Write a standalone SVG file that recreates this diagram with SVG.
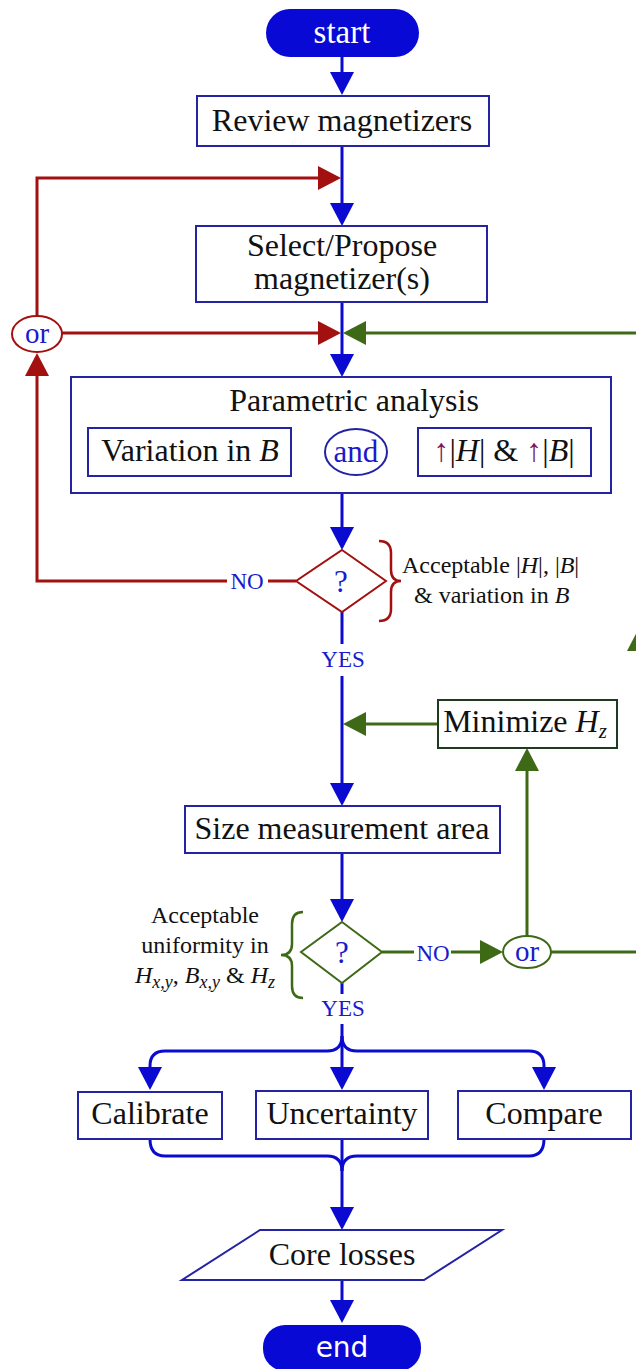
<svg xmlns="http://www.w3.org/2000/svg" width="636" height="1369" viewBox="0 0 636 1369">
  <defs>
    <style>
      .box { fill: #ffffff; stroke: #2323a3; stroke-width: 2; }
      .term { fill: #0909d6; }
      .txt { font-family: "Liberation Serif", "Times New Roman", serif; font-size: 32px; fill: #111111; text-anchor: middle; }
      .note { font-family: "Liberation Serif", "Times New Roman", serif; font-size: 24px; fill: #111111; }
      .lbl { font-family: "Liberation Serif", "Times New Roman", serif; font-size: 23px; fill: #1a1acc; text-anchor: middle; }
      .lbl.big { font-size: 31px; }
      .lbl.or { font-size: 29px; }
      .blu { fill: none; stroke: #0a0ad0; stroke-width: 3; }
      .red { fill: none; stroke: #a31010; stroke-width: 3; }
      .grn { fill: none; stroke: #3e6a17; stroke-width: 3; }
      .ab { marker-end: url(#ah-blue); }
      .ar { marker-end: url(#ah-red); }
      .ag { marker-end: url(#ah-green); }
      .it { font-style: italic; }
      .up { fill: #7a1660; }
      .sub { font-style: italic; font-size: 18px; }
      .subz { font-style: italic; font-size: 21px; }
    </style>
    <marker id="ah-blue" markerUnits="userSpaceOnUse" markerWidth="24" markerHeight="24" refX="13" refY="12" orient="auto">
      <path d="M0,0 L23,12 L0,24 Z" fill="#0a0ad0"/>
    </marker>
    <marker id="ah-red" markerUnits="userSpaceOnUse" markerWidth="24" markerHeight="24" refX="13" refY="12" orient="auto">
      <path d="M0,0 L23,12 L0,24 Z" fill="#a31010"/>
    </marker>
    <marker id="ah-green" markerUnits="userSpaceOnUse" markerWidth="24" markerHeight="24" refX="13" refY="12" orient="auto">
      <path d="M0,0 L23,12 L0,24 Z" fill="#3e6a17"/>
    </marker>
  </defs>

  <rect width="636" height="1369" fill="#ffffff"/>

  <!-- connectors -->
  <g id="connectors">
    <path class="blu ab" d="M342,57 L342,85"/>
    <path class="blu ab" d="M342,146 L342,216"/>
    <path class="blu ab" d="M342,302 L342,367"/>
    <!-- retry loop (red) -->
    <path class="red ar" d="M37,316 L37,178 L331,178"/>
    <path class="red ar" d="M62,333 L331,333"/>
    <path class="red" d="M296,581 L268,581"/>
    <path class="red ar" d="M227,581 L37,581 L37,363"/>
    <!-- uniformity loop (green) -->
    <path class="grn ag" d="M639,952 L639,638"/>
    <path class="grn ag" d="M639,640 L639,333 L353,333"/>
    <path class="grn ag" d="M438,724 L353,724"/>
    <path class="grn" d="M382,952 L414,952"/>
    <path class="grn ag" d="M451,952 L493,952"/>
    <path class="grn ag" d="M527,937 L527,758"/>
    <path class="grn" d="M551,952 L640,952"/>
    <!-- main flow -->
    <path class="blu ab" d="M325,452 L304,452"/>
    <path class="blu ab" d="M387,452 L408,452"/>
    <path class="blu ab" d="M342,493 L342,540"/>
    <path class="blu" d="M342,612 L342,644"/>
    <path class="blu ab" d="M342,676 L342,796"/>
    <path class="blu ab" d="M342,853 L342,912"/>
    <path class="blu" d="M342,983 L342,994"/>
    <path class="blu ab" d="M342,1024 L342,1080"/>
    <path class="blu ab" d="M342,1036 Q342,1051 327,1051 L165,1051 Q150,1051 150,1066 L150,1080"/>
    <path class="blu ab" d="M342,1036 Q342,1051 357,1051 L529,1051 Q544,1051 544,1066 L544,1080"/>
    <path class="blu" d="M150,1139 Q150,1156 165,1156 L327,1156 Q342,1156 342,1171"/>
    <path class="blu" d="M544,1139 Q544,1156 529,1156 L357,1156 Q342,1156 342,1171"/>
    <path class="blu ab" d="M342,1139 L342,1220"/>
    <path class="blu ab" d="M342,1280 L342,1313"/>
  </g>

  <g id="start">
    <rect class="term" x="266" y="9" width="153" height="48" rx="24"/>
    <text x="342" y="43" font-family="Liberation Serif, serif" font-size="33" fill="#ffffff" text-anchor="middle">start</text>
  </g>

  <g id="review">
    <rect class="box" x="197" y="96" width="292" height="50"/>
    <text class="txt" x="342" y="131">Review magnetizers</text>
  </g>

  <g id="select">
    <rect class="box" x="196" y="226" width="291" height="76"/>
    <text class="txt" x="342" y="256">Select/Propose</text>
    <text class="txt" x="342" y="289">magnetizer(s)</text>
  </g>

  <g id="or-red">
    <ellipse cx="37" cy="334" rx="25" ry="18" fill="#ffffff" stroke="#a31010" stroke-width="2"/>
    <text class="lbl or" x="37" y="343">or</text>
  </g>

  <g id="parametric">
    <rect class="box" x="71" y="377" width="540" height="116"/>
    <text class="txt" x="354" y="411">Parametric analysis</text>
  </g>

  <g id="variation">
    <rect class="box" x="88" y="428" width="203" height="48"/>
    <text class="txt" x="190" y="461">Variation in <tspan class="it">B</tspan></text>
  </g>

  <g id="and">
    <ellipse cx="356" cy="452" rx="31" ry="23" fill="#ffffff" stroke="#2323a3" stroke-width="2"/>
    <text class="lbl big" x="356" y="462">and</text>
  </g>

  <g id="increase">
    <rect class="box" x="418" y="428" width="173" height="48"/>
    <text class="txt" x="504" y="461"><tspan class="up">↑</tspan>|<tspan class="it">H</tspan>| &amp; <tspan class="up">↑</tspan>|<tspan class="it">B</tspan>|</text>
  </g>

  <g id="check-field">
    <polygon points="342,550 386,581 342,612 296,581" fill="#ffffff" stroke="#a31010" stroke-width="2"/>
    <text class="lbl big" x="341" y="592">?</text>
    <text class="lbl" x="247" y="589">NO</text>
    <path d="M379,541 Q391,541 391,553 L391,570 Q391,581 401,581 Q391,581 391,592 L391,609 Q391,621 379,621" fill="none" stroke="#a31010" stroke-width="2.5"/>
    <text class="note" x="402" y="573">Acceptable |<tspan class="it">H</tspan>|, |<tspan class="it">B</tspan>|</text>
    <text class="note" x="414" y="603">&amp; variation in <tspan class="it">B</tspan></text>
    <text class="lbl" x="343" y="667">YES</text>
  </g>

  <g id="minimize">
    <rect x="438" y="700" width="179" height="48" fill="#ffffff" stroke="#1f3a1f" stroke-width="2"/>
    <text class="txt" x="525" y="732">Minimize <tspan class="it">H</tspan><tspan class="subz" dy="6">z</tspan></text>
  </g>

  <g id="size">
    <rect class="box" x="185" y="806" width="315" height="47"/>
    <text class="txt" x="342" y="839">Size measurement area</text>
  </g>

  <g id="check-uniformity">
    <polygon points="342,922 382,952 342,983 301,952" fill="#ffffff" stroke="#3e6a17" stroke-width="2"/>
    <text class="lbl big" x="342" y="963">?</text>
    <text class="lbl" x="433" y="961">NO</text>
    <path d="M303,912 Q292,912 292,924 L292,944 Q292,955 281,955 Q292,955 292,966 L292,986 Q292,998 303,998" fill="none" stroke="#3e6a17" stroke-width="2.5"/>
    <text class="note" x="205" y="923" text-anchor="middle">Acceptable</text>
    <text class="note" x="205" y="953" text-anchor="middle">uniformity in</text>
    <text class="note" x="205" y="983" text-anchor="middle"><tspan class="it">H</tspan><tspan class="sub" dy="5">x,y</tspan><tspan dy="-5">, </tspan><tspan class="it">B</tspan><tspan class="sub" dy="5">x,y</tspan><tspan dy="-5"> &amp; </tspan><tspan class="it">H</tspan><tspan class="sub" dy="5">z</tspan></text>
    <text class="lbl" x="343" y="1016">YES</text>
  </g>

  <g id="or-green">
    <ellipse cx="527" cy="952" rx="24" ry="16" fill="#ffffff" stroke="#3e6a17" stroke-width="2"/>
    <text class="lbl or" x="527" y="961">or</text>
  </g>

  <g id="calibrate">
    <rect class="box" x="78" y="1092" width="144" height="47"/>
    <text class="txt" x="150" y="1124">Calibrate</text>
  </g>

  <g id="uncertainty">
    <rect class="box" x="256" y="1091" width="172" height="48"/>
    <text class="txt" x="342" y="1124">Uncertainty</text>
  </g>

  <g id="compare">
    <rect class="box" x="458" y="1091" width="173" height="48"/>
    <text class="txt" x="544" y="1124">Compare</text>
  </g>

  <g id="core-losses">
    <polygon points="260,1230 502,1230 424,1280 182,1280" fill="#ffffff" stroke="#2323a3" stroke-width="2"/>
    <text class="txt" x="342" y="1265">Core losses</text>
  </g>

  <g id="end">
    <rect class="term" x="263" y="1325" width="158" height="46" rx="22"/>
    <text x="342" y="1357" font-family="DejaVu Sans, sans-serif" font-size="28" fill="#ffffff" text-anchor="middle">end</text>
  </g>
</svg>
